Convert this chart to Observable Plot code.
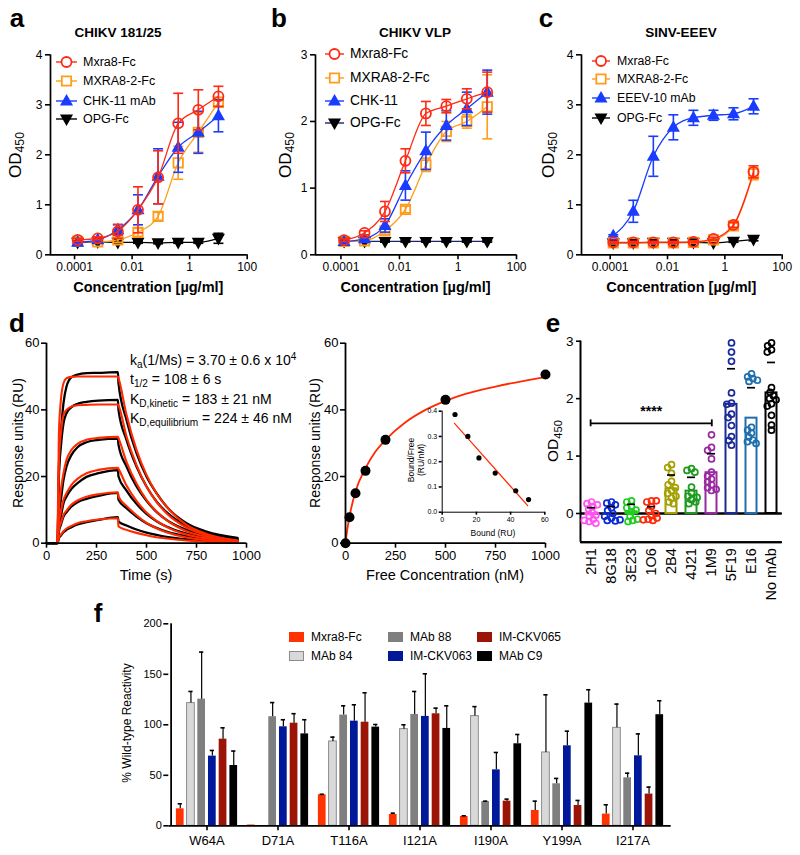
<!DOCTYPE html>
<html><head><meta charset="utf-8">
<script src="https://cdn.jsdelivr.net/npm/d3@7"></script>
<script src="https://cdn.jsdelivr.net/npm/@observablehq/plot@0.6"></script>
<style>
body{margin:0;background:#fff;}
#root{position:relative;width:800px;height:855px;overflow:hidden;font-family:"Liberation Sans",Arial,Helvetica,sans-serif;color:#000;background:#fff;}
.pl{position:absolute;}
.t{position:absolute;white-space:nowrap;line-height:1;}
.t sub{font-size:0.72em;vertical-align:-0.3em;line-height:0;}
.t sup{font-size:0.72em;vertical-align:0.45em;line-height:0;}
#root svg text{font-family:"Liberation Sans",Arial,sans-serif;}
#root g[aria-label$="-axis tick"]{stroke-width:1.6px;}
#pe g[aria-label="y-axis tick label"]{font-size:13.5px;}
#pe g[aria-label="fx-axis tick label"]{font-size:14.5px;}
#pf g[aria-label="y-axis tick label"]{font-size:11px;}
#pf g[aria-label="x-axis tick label"]{font-size:13px;}
</style></head><body><div id="root"></div><script>
// ---------------- DATA ----------------
const conc = [0.000128, 0.00064, 0.0032, 0.016, 0.08, 0.4, 2, 10];
const concTicks = [0.0001, 0.01, 1, 100];

// panel a: CHIKV 181/25
const aMxra8 = [0.30, 0.33, 0.47, 0.90, 1.55, 2.63, 2.90, 3.17];
const aMxra8Err = [0.03, 0.03, 0.14, 0.46, 0.53, 0.60, 0.40, 0.20];
const aMxra82 = [0.27, 0.26, 0.30, 0.45, 0.77, 1.84, 2.45, 3.05];
const aMxra82Err = [0.03, 0.03, 0.05, 0.08, 0.08, 0.33, 0.40, 0.10];
const aChk11 = [0.25, 0.30, 0.50, 0.90, 1.57, 2.15, 2.45, 2.78];
const aChk11Err = [0.03, 0.03, 0.10, 0.30, 0.55, 0.50, 0.42, 0.32];
const aOpg = [0.25, 0.26, 0.25, 0.25, 0.24, 0.25, 0.25, 0.33];
const aOpgErr = [0.02, 0.02, 0.02, 0.02, 0.02, 0.02, 0.02, 0.10];

// panel b: CHIKV VLP
const bMxra8 = [0.22, 0.33, 0.65, 1.41, 2.12, 2.23, 2.34, 2.44];
const bMxra8Err = [0.02, 0.03, 0.15, 0.18, 0.18, 0.10, 0.15, 0.30];
const bMxra82 = [0.20, 0.21, 0.36, 0.68, 1.35, 1.85, 2.00, 2.22];
const bMxra82Err = [0.02, 0.02, 0.05, 0.05, 0.10, 0.15, 0.10, 0.48];
const bChk11 = [0.20, 0.24, 0.44, 1.04, 1.56, 1.94, 2.19, 2.44];
const bChk11Err = [0.02, 0.02, 0.10, 0.22, 0.28, 0.22, 0.25, 0.33];
const bOpg = [0.20, 0.20, 0.20, 0.20, 0.20, 0.20, 0.20, 0.20];
const bOpgErr = [0.01, 0.01, 0.01, 0.01, 0.01, 0.01, 0.01, 0.01];

// panel c: SINV-EEEV
const cMxra8 = [0.25, 0.25, 0.25, 0.25, 0.26, 0.32, 0.60, 1.66];
const cMxra8Err = [0.02, 0.02, 0.02, 0.02, 0.02, 0.03, 0.05, 0.12];
const cMxra82 = [0.24, 0.24, 0.24, 0.24, 0.25, 0.30, 0.58, 1.62];
const cMxra82Err = [0.02, 0.02, 0.02, 0.02, 0.02, 0.03, 0.05, 0.12];
const cEeev = [0.38, 0.87, 1.97, 2.55, 2.74, 2.79, 2.82, 2.97];
const cEeevErr = [0.02, 0.22, 0.40, 0.25, 0.15, 0.10, 0.12, 0.15];
const cOpg = [0.24, 0.24, 0.25, 0.25, 0.25, 0.24, 0.27, 0.31];
const cOpgErr = [0.02, 0.02, 0.02, 0.02, 0.02, 0.02, 0.02, 0.03];

// panel d (sensorgram)
const dTime = [0, 55, 62, 72, 85, 100, 125, 155, 200, 260, 357, 360, 400, 450, 500, 550, 600, 700, 800, 955];
const dData1 = [0, 0, 22, 33, 42, 47, 49.8, 50.6, 51, 51.1, 51.3, 48, 37, 27, 20, 15, 11, 6, 3.5, 1.6];
const dData2 = [0, 0, 20, 29, 36, 39, 40.8, 41.8, 42.4, 42.8, 43, 40, 31, 23, 17, 12.5, 9.3, 5.2, 3, 1.4];
const dData3 = [0, 0, 8, 13, 19, 23, 26.5, 28.8, 30.3, 31, 31.4, 29.5, 23, 17, 12.7, 9.4, 7, 4, 2.3, 1.2];
const dData4 = [0, 0, 5, 8, 12, 14, 16.3, 18, 19.9, 21, 21.9, 20, 15.8, 11.8, 8.8, 6.6, 5, 2.9, 1.8, 1.0];
const dData5 = [0, 0, 3.5, 5.5, 8, 9.3, 11, 12.3, 13.3, 14.2, 15.1, 13, 10.5, 8, 6, 4.6, 3.5, 2.1, 1.3, 0.8];
const dData6 = [0, 0, 1.5, 2.3, 3.3, 4, 4.8, 5.6, 6.3, 7, 7.8, 6.5, 5.3, 4.1, 3.2, 2.5, 1.9, 1.2, 0.8, 0.5];
const dFit1 = [null, 0, 33, 43, 48, 49.5, 49.9, 50, 50, 50, 50, 49.5, 38.5, 28, 20.5, 15, 11, 5.5, 2.8, 0.8];
const dFit2 = [null, 0, 24, 33, 38.5, 40, 41, 41.4, 41.5, 41.6, 41.6, 41.3, 32, 23.4, 17, 12.4, 9, 4.7, 2.4, 0.7];
const dFit3 = [null, 0, 10, 16, 21, 25, 28, 29.8, 31, 31.6, 31.9, 31.5, 24.4, 17.9, 13, 9.5, 6.9, 3.6, 1.9, 0.5];
const dFit4 = [null, 0, 6, 9.5, 13, 15, 17.5, 19.3, 21, 22, 22.6, 22.3, 17.3, 12.7, 9.2, 6.7, 4.9, 2.6, 1.4, 0.4];
const dFit5 = [null, 0, 4, 6, 8.5, 9.8, 11.6, 12.8, 13.9, 14.7, 15.3, 14, 11.2, 8.4, 6.1, 4.5, 3.3, 1.7, 0.9, 0.3];
const dFit6 = [null, 0, 1.7, 2.6, 3.6, 4.4, 5.2, 6, 6.6, 7.1, 7.5, 5, 4, 3.1, 2.4, 1.8, 1.4, 0.8, 0.4, 0.2];

// panel d (equilibrium)
const eqConc = [0, 20, 50, 100, 200, 500, 1000];
const eqRU = [0, 7.8, 15, 21.7, 31, 43, 50.6];
const eqFitConc = [0, 10, 25, 50, 100, 150, 200, 300, 400, 500, 600, 750, 900, 1000];
const eqFitRU = [0, 4.5, 9.5, 15.5, 22.5, 27.5, 31, 36.3, 40, 42.7, 44.8, 47, 48.8, 49.8];
const scBound = [7.5, 15, 21.5, 31, 43, 50.5];
const scBF = [0.387, 0.30, 0.215, 0.155, 0.085, 0.05];
const scFitBound = [7.2, 50];
const scFitBF = [0.352, 0.026];

// panel e
const eCats = ["2H1", "8G18", "3E23", "1O6", "2B4", "4J21", "1M9", "5F19", "E16", "No mAb"];
const eColors = ["#ff55ee", "#0a2ad8", "#22cc22", "#ff2a0a", "#a3a000", "#1e9a1e", "#9a2aa0", "#1a2a99", "#1f6fae", "#000000"];
const eMean = [-0.02, 0.0, 0.03, 0.0, 0.43, 0.39, 0.71, 1.90, 1.66, 2.10];
const eSD = [0.12, 0.12, 0.13, 0.12, 0.24, 0.24, 0.33, 0.62, 0.53, 0.53];
const p2H1 = [0.2, 0.17, 0.12, 0.08, 0.02, -0.05, -0.1, -0.14, -0.17, -0.12, 0.15, -0.03];
const p8G18 = [0.2, 0.18, 0.1, 0.05, -0.08, -0.12, -0.13, -0.11, 0.0, 0.15, -0.05];
const p3E23 = [0.22, 0.2, 0.12, 0.1, 0.03, -0.05, -0.12, -0.14, 0.06, -0.1];
const p1O6 = [0.22, 0.2, 0.12, 0.05, -0.04, -0.1, -0.12, -0.08, -0.11, 0.0, 0.22];
const p2B4 = [0.85, 0.8, 0.7, 0.56, 0.5, 0.4, 0.35, 0.27, 0.2, 0.17, 0.3, 0.45];
const p4J21 = [0.78, 0.75, 0.72, 0.46, 0.36, 0.3, 0.24, 0.17, 0.2, 0.28];
const p1M9 = [1.37, 1.15, 1.1, 0.95, 0.72, 0.6, 0.5, 0.45, 0.4, 0.55, 0.65, 0.42];
const p5F19 = [2.97, 2.81, 2.65, 2.1, 1.92, 1.9, 1.73, 1.67, 1.53, 1.34, 1.27, 1.19];
const pE16 = [2.43, 2.38, 2.35, 2.32, 2.3, 1.5, 1.45, 1.4, 1.33, 1.28, 1.25, 1.22];
const pNoMab = [2.97, 2.92, 2.85, 2.81, 2.19, 2.11, 2.05, 2.0, 1.98, 1.91, 1.87, 1.71, 1.54, 1.45];
const eSigFrom = "2H1", eSigTo = "1M9", eSigY = 1.57, eSigLabel = "****";

// panel f
const fMut = ["W64A", "D71A", "T116A", "I121A", "I190A", "Y199A", "I217A"];
const fSeries = ["Mxra8-Fc", "MAb 84", "MAb 88", "IM-CKV063", "IM-CKV065", "MAb C9"];
const fColors = ["#ff3300", "#d9d9d9", "#7f7f7f", "#00189a", "#9b1405", "#000000"];
const fMxra8 = [16.8, 0.8, 30.7, 11.2, 9.2, 15.2, 11.6];
const fMxra8SD = [5, 0, 0.5, 1.3, 0.7, 9.2, 9.2];
const fMAb84 = [121.5, 0, 83.5, 95.7, 108.6, 72.6, 97];
const fMAb84SD = [11.5, 0, 4.3, 4.3, 9.4, 57.1, 23.5];
const fMAb88 = [125.4, 108, 109.6, 110.2, 24, 41.6, 47.5];
const fMAb88SD = [46.6, 14, 9.2, 22.8, 0.4, 5.3, 4.6];
const f063 = [69, 98, 103.6, 108.3, 55.4, 79.2, 69.3];
const f063SD = [5.6, 7, 16.2, 42.2, 17.2, 14.5, 21.7];
const f065 = [85.8, 101.6, 102.6, 110.9, 24.4, 20.1, 31.4];
const f065SD = [11.2, 9.4, 29.1, 5.6, 2, 5, 6.9];
const fC9 = [59.7, 91, 97.7, 96.4, 81.2, 121.5, 110];
const fC9SD = [14.3, 14, 2.6, 22.4, 9.2, 13.2, 13.8];

// ---------------- HELPERS ----------------
const FONT = '"Liberation Sans", Arial, sans-serif';
const intFmt = d3.format("d");
const root = document.getElementById("root");
function place(node, left, top, w, id) {
  const d = document.createElement("div");
  d.className = "pl"; d.style.left = left + "px"; d.style.top = top + "px";
  if (w) d.style.width = w + "px";
  if (id) d.id = id;
  d.appendChild(node); root.appendChild(d); return d;
}
function txt(html, x, y, o = {}) {
  const d = document.createElement("div");
  d.className = "t"; d.innerHTML = html;
  d.style.fontSize = (o.size || 12) + "px";
  d.style.fontWeight = o.bold ? "bold" : "normal";
  d.style.left = x + "px"; d.style.top = y + "px";
  const ax = o.anchor === "start" ? "0" : o.anchor === "end" ? "-100%" : "-50%";
  d.style.transform = `translate(${ax},-50%)` + (o.rotate ? ` rotate(${o.rotate}deg)` : "");
  root.appendChild(d);
}
const capSym = {draw(ctx, size) { const r = Math.sqrt(size / Math.PI); ctx.moveTo(-r, 0); ctx.lineTo(r, 0); }};
const triUp = {draw(ctx, size) { const r = Math.sqrt(size / Math.PI); ctx.moveTo(0, -r * 1.05); ctx.lineTo(r, r * 0.72); ctx.lineTo(-r, r * 0.72); ctx.closePath(); }};
const triDown = {draw(ctx, size) { const r = Math.sqrt(size / Math.PI); ctx.moveTo(0, r * 1.05); ctx.lineTo(r, -r * 0.72); ctx.lineTo(-r, -r * 0.72); ctx.closePath(); }};
const d3sym = s => s === "circle" ? d3.symbolCircle : s === "square" ? d3.symbolSquare : s;

const RED = "#ff2a14", ORANGE = "#ff9c1a", BLUE = "#1a3cff", BLACK = "#000";

function dosePanel(cfg) {
  const marks = [
    Plot.ruleY([0], {stroke: "#000", strokeWidth: 1.7}),
    Plot.ruleX([cfg.xMin], {stroke: "#000", strokeWidth: 1.7})
  ];
  for (const s of cfg.series) {
    const d = conc.map((c, i) => ({c, v: s.y[i], lo: s.y[i] - s.err[i], hi: s.y[i] + s.err[i]}));
    marks.push(Plot.line(d, {x: "c", y: "v", stroke: s.lineColor || s.color, strokeWidth: 1.3, curve: "monotone-x"}));
    marks.push(Plot.ruleX(d, {x: "c", y1: "lo", y2: "hi", stroke: s.color, strokeWidth: 1.6}));
    marks.push(Plot.dot(d, {x: "c", y: "hi", symbol: capSym, r: 5, stroke: s.color, fill: "none", strokeWidth: 1.6}));
    marks.push(Plot.dot(d, {x: "c", y: "lo", symbol: capSym, r: 5, stroke: s.color, fill: "none", strokeWidth: 1.6}));
    marks.push(Plot.dot(d, {x: "c", y: "v", symbol: s.symbol, r: s.r, stroke: s.color, fill: s.fill, strokeWidth: 1.8}));
  }
  const p = Plot.plot({
    width: cfg.width, height: 300,
    marginLeft: cfg.ml, marginRight: cfg.mr, marginTop: 54.3, marginBottom: 45.7,
    style: {fontSize: "12px", fontFamily: FONT, background: "transparent", color: "#000", overflow: "visible"},
    x: {type: "log", domain: [cfg.xMin, 100], ticks: concTicks, tickFormat: d => String(d), tickSize: 5, tickPadding: 3, label: null},
    y: {domain: [0, cfg.yMax], ticks: d3.range(0, cfg.yMax + 1), tickFormat: intFmt, tickSize: 5, tickPadding: 3, label: null},
    marks
  });
  place(p, cfg.left, 0, cfg.width);
  // legend
  cfg.series.slice().sort((a, b) => a.order - b.order).forEach((s, i) => {
    const w = cfg.legSym[1] - cfg.legSym[0], h = 14, yc = cfg.legY[i];
    const svg = d3.create("svg").attr("width", w).attr("height", h)
      .style("position", "absolute").style("left", cfg.legSym[0] + "px").style("top", (yc - h / 2) + "px").style("overflow", "visible");
    svg.append("line").attr("x1", 0).attr("x2", w).attr("y1", h / 2).attr("y2", h / 2).attr("stroke", s.lineColor || s.color).attr("stroke-width", 1.4);
    svg.append("path").attr("transform", `translate(${w / 2},${h / 2})`)
      .attr("d", d3.symbol(d3sym(s.symbol), Math.PI * s.r * s.r)())
      .attr("fill", s.fill === "none" ? "#fff" : s.fill).attr("stroke", s.color).attr("stroke-width", 1.8);
    root.appendChild(svg.node());
    txt(s.name, cfg.legText, yc, {size: cfg.legSize, anchor: "start"});
  });
  txt(cfg.title, cfg.titleX, 33, {size: 13.5, bold: true});
  txt("Concentration [µg/ml]", cfg.left + cfg.ml + (cfg.width - cfg.ml - cfg.mr) / 2, 287, {size: 14.5, bold: true});
  txt("OD<sub>450</sub>", cfg.odX, 155, {size: 17, rotate: -90});
  txt(cfg.letter, cfg.letterX, 18, {size: 26, bold: true});
}

const ser = (name, y, err, color, symbol, fill, r, order, lineColor) => ({name, y, err, color, symbol, fill, r, order, lineColor});

// ---------------- PANEL a ----------------
dosePanel({
  left: 0, width: 265, ml: 50, mr: 18.3, xMin: 1.46e-5, yMax: 4,
  title: "CHIKV 181/25", titleX: 118, odX: 15, letter: "a", letterX: 17,
  legSym: [56, 77], legText: 83, legY: [61.7, 81, 100.7, 118.7], legSize: 12.5,
  series: [
    ser("OPG-Fc", aOpg, aOpgErr, BLACK, triDown, BLACK, 5, 3),
    ser("MXRA8-2-Fc", aMxra82, aMxra82Err, ORANGE, "square", "none", 5.3, 1),
    ser("CHK-11 mAb", aChk11, aChk11Err, BLUE, triUp, BLUE, 5, 2),
    ser("Mxra8-Fc", aMxra8, aMxra8Err, RED, "circle", "none", 5, 0)
  ]
});
// ---------------- PANEL b ----------------
dosePanel({
  left: 265, width: 270, ml: 50, mr: 19, xMin: 1.35e-5, yMax: 3,
  title: "CHIKV VLP", titleX: 415, odX: 285, letter: "b", letterX: 279,
  legSym: [325, 344], legText: 350, legY: [54.3, 78.3, 100.7, 123.3], legSize: 13.8,
  series: [
    ser("OPG-Fc", bOpg, bOpgErr, BLACK, triDown, BLACK, 5, 3, "#1c2470"),
    ser("MXRA8-2-Fc", bMxra82, bMxra82Err, ORANGE, "square", "none", 5.3, 1),
    ser("CHK-11", bChk11, bChk11Err, BLUE, triUp, BLUE, 5, 2),
    ser("Mxra8-Fc", bMxra8, bMxra8Err, RED, "circle", "none", 5, 0)
  ]
});
// ---------------- PANEL c ----------------
dosePanel({
  left: 530, width: 270, ml: 51, mr: 18.3, xMin: 1.0e-5, yMax: 4,
  title: "SINV-EEEV", titleX: 681, odX: 548, letter: "c", letterX: 546,
  legSym: [592, 610], legText: 617, legY: [61, 79.3, 98.3, 118.3], legSize: 12.3,
  series: [
    ser("OPG-Fc", cOpg, cOpgErr, BLACK, triDown, BLACK, 5, 3),
    ser("EEEV-10 mAb", cEeev, cEeevErr, BLUE, triUp, BLUE, 5, 2),
    ser("MXRA8-2-Fc", cMxra82, cMxra82Err, ORANGE, "square", "none", 5.3, 1),
    ser("Mxra8-Fc", cMxra8, cMxra8Err, RED, "circle", "none", 5, 0)
  ]
});

// ---------------- PANEL d (left) ----------------
{
  const dataSets = [dData1, dData2, dData3, dData4, dData5, dData6];
  const fitSets = [dFit1, dFit2, dFit3, dFit4, dFit5, dFit6];
  const dataRows = [], fitRows = [];
  dataSets.forEach((arr, k) => arr.forEach((v, i) => dataRows.push({t: dTime[i], v, k})));
  fitSets.forEach((arr, k) => arr.forEach((v, i) => fitRows.push({t: dTime[i], v, k})));
  const p = Plot.plot({
    width: 270, height: 260, marginLeft: 46, marginRight: 24, marginTop: 22.7, marginBottom: 37.3,
    style: {fontSize: "13px", fontFamily: FONT, background: "transparent", color: "#000", overflow: "visible"},
    x: {domain: [0, 1000], ticks: [0, 250, 500, 750, 1000], tickFormat: intFmt, tickSize: 5, tickPadding: 3, label: null},
    y: {domain: [0, 60], ticks: [0, 20, 40, 60], tickFormat: intFmt, tickSize: 5, tickPadding: 2, label: null},
    marks: [
      Plot.line(dataRows, {x: "t", y: "v", z: "k", stroke: "#000", strokeWidth: 2.3, curve: "monotone-x"}),
      Plot.line(fitRows, {x: "t", y: "v", z: "k", stroke: "#ff2a00", strokeWidth: 2.1, curve: "monotone-x"}),
      Plot.ruleX([0], {stroke: "#000", strokeWidth: 1.8}),
      Plot.ruleY([0], {stroke: "#000", strokeWidth: 1.8})
    ]
  });
  place(p, 0, 320, 270);
  txt("d", 17, 323, {size: 26, bold: true});
  txt("Time (s)", 146, 575, {size: 14.5});
  txt("Response units (RU)", 18, 443, {size: 14, rotate: -90});
  txt("k<sub>a</sub>(1/Ms) = 3.70 ± 0.6 x 10<sup>4</sup>", 130, 360, {size: 14, anchor: "start"});
  txt("t<sub>1/2</sub> = 108 ± 6 s", 130, 379, {size: 14, anchor: "start"});
  txt("K<sub>D,kinetic</sub> = 183 ± 21 nM", 130, 398.5, {size: 14, anchor: "start"});
  txt("K<sub>D,equilibrium</sub> = 224 ± 46 nM", 130, 418, {size: 14, anchor: "start"});
}

// ---------------- PANEL d (right) ----------------
{
  const pts = eqConc.map((c, i) => ({c, v: eqRU[i]}));
  const fit = eqFitConc.map((c, i) => ({c, v: eqFitRU[i]}));
  const p = Plot.plot({
    width: 270, height: 260, marginLeft: 45, marginRight: 25, marginTop: 22.7, marginBottom: 37.3,
    style: {fontSize: "13px", fontFamily: FONT, background: "transparent", color: "#000", overflow: "visible"},
    x: {domain: [0, 1000], ticks: [0, 250, 500, 750, 1000], tickFormat: intFmt, tickSize: 5, tickPadding: 3, label: null},
    y: {domain: [0, 60], ticks: [0, 20, 40, 60], tickFormat: intFmt, tickSize: 5, tickPadding: 2, label: null},
    marks: [
      Plot.line(fit, {x: "c", y: "v", stroke: "#ff2a00", strokeWidth: 1.8, curve: "monotone-x"}),
      Plot.dot(pts, {x: "c", y: "v", r: 5, fill: "#000"}),
      Plot.ruleX([0], {stroke: "#000", strokeWidth: 1.8}),
      Plot.ruleY([0], {stroke: "#000", strokeWidth: 1.8})
    ]
  });
  place(p, 300, 320, 270);
  txt("Free Concentration (nM)", 445, 575, {size: 14.5});
  txt("Response units (RU)", 315, 443, {size: 14, rotate: -90});

  // inset Scatchard
  const sc = scBound.map((b, i) => ({b, y: scBF[i]}));
  const scFit = scFitBound.map((b, i) => ({b, y: scFitBF[i]}));
  const q = Plot.plot({
    width: 150, height: 145, marginLeft: 41.7, marginRight: 5.7, marginTop: 15.7, marginBottom: 28.3,
    style: {fontSize: "7px", fontFamily: FONT, background: "transparent", color: "#000", overflow: "visible"},
    x: {domain: [0, 60], ticks: [0, 20, 40, 60], tickFormat: intFmt, tickSize: 3, tickPadding: 2, label: null},
    y: {domain: [0, 0.4], ticks: [0, 0.1, 0.2, 0.3, 0.4], tickFormat: d3.format(".1f"), tickSize: 3, tickPadding: 2, label: null},
    marks: [
      Plot.line(scFit, {x: "b", y: "y", stroke: "#ff2a00", strokeWidth: 1.2}),
      Plot.dot(sc, {x: "b", y: "y", r: 2.6, fill: "#000"}),
      Plot.ruleX([0], {stroke: "#000", strokeWidth: 1}),
      Plot.ruleY([0], {stroke: "#000", strokeWidth: 1})
    ]
  });
  place(q, 400, 395, 150);
  txt("Bound (RU)", 493, 533, {size: 8.5});
  txt("Bound/Free", 410.7, 460, {size: 8.5, rotate: -90});
  txt("(RU/nM)", 420.7, 460, {size: 8.5, rotate: -90});
}

// ---------------- PANEL e ----------------
{
  const eVals = [p2H1, p8G18, p3E23, p1O6, p2B4, p4J21, p1M9, p5F19, pE16, pNoMab];
  const bars = eCats.map((cat, i) => ({cat, mean: eMean[i], top: eMean[i] + eSD[i], bot: eMean[i] - eSD[i], color: eColors[i]}));
  const pts = [];
  eCats.forEach((cat, i) => eVals[i].forEach(v => pts.push({cat, v, color: eColors[i]})));
  const common = {width: 260, height: 290, marginLeft: 40, marginRight: 18, marginTop: 20.7, marginBottom: 68.3};
  const ov = Plot.plot({
    ...common,
    style: {fontSize: "14px", fontFamily: FONT, background: "transparent", color: "#000", overflow: "visible"},
    x: {domain: [0, eCats.length], axis: null},
    y: {domain: [-0.5, 3], axis: null},
    marks: [
      Plot.ruleY([0], {stroke: "#000", strokeWidth: 2}),
      Plot.ruleY([-0.5], {stroke: "#000", strokeWidth: 2}),
      Plot.ruleX([0], {y1: -0.5, y2: 3, stroke: "#000", strokeWidth: 2}),
      Plot.link([{x1: eCats.indexOf(eSigFrom) + 0.5, x2: eCats.indexOf(eSigTo) + 0.5, y: eSigY}], {x1: "x1", x2: "x2", y1: "y", y2: "y", stroke: "#000", strokeWidth: 1.8}),
      Plot.ruleX([eCats.indexOf(eSigFrom) + 0.5, eCats.indexOf(eSigTo) + 0.5], {y1: eSigY - 0.06, y2: eSigY + 0.06, stroke: "#000", strokeWidth: 1.8}),
      Plot.text([{x: (eCats.indexOf(eSigFrom) + eCats.indexOf(eSigTo) + 1) / 2, y: eSigY + 0.2}], {x: "x", y: "y", text: () => eSigLabel, fontSize: 14, fontWeight: "bold"})
    ]
  });
  place(ov, 540, 320, 260);
  const p = Plot.plot({
    ...common,
    style: {fontSize: "14.5px", fontFamily: FONT, background: "transparent", color: "#000", overflow: "visible"},
    color: {type: "identity"},
    fx: {domain: eCats, padding: 0, axis: "bottom", tickRotate: -90, tickSize: 0, tickPadding: 6, label: null},
    y: {domain: [-0.5, 3], ticks: [0, 1, 2, 3], tickFormat: intFmt, tickSize: 5, tickPadding: 3, label: null},
    marks: [
      Plot.ruleY([0], {stroke: "#000", strokeWidth: 2}),
      Plot.ruleY([-0.5], {stroke: "#000", strokeWidth: 2}),
      Plot.barY(bars, {fx: "cat", y1: 0, y2: "mean", stroke: "color", fill: "none", strokeWidth: 2, insetLeft: 4.5, insetRight: 4.5}),
      Plot.dot(pts, Plot.dodgeX({anchor: "middle", padding: -1.2}, {fx: "cat", y: "v", r: 3, stroke: "color", fill: "none", strokeWidth: 1.7})),
      Plot.ruleX(bars, {fx: "cat", y1: "bot", y2: "top", stroke: "#000", strokeWidth: 1.7}),
      Plot.tickY(bars, {fx: "cat", y: "top", stroke: "#000", strokeWidth: 1.7, insetLeft: 6, insetRight: 6})
    ]
  });
  place(p, 540, 320, 260, "pe");
  txt("e", 553, 323, {size: 26, bold: true});
  txt("OD<sub>450</sub>", 553, 441, {size: 15.5, rotate: -90});
}

// ---------------- PANEL f ----------------
{
  const vals = [fMxra8, fMAb84, fMAb88, f063, f065, fC9];
  const sds = [fMxra8SD, fMAb84SD, fMAb88SD, f063SD, f065SD, fC9SD];
  const W = 600, ML = 68.3, MR = 29.3;
  const bw = (W - ML - MR) / fMut.length;
  const step = 10.7, barW = 8.5, capW = 5;
  const marks = [];
  fSeries.forEach((s, si) => {
    const d = fMut.map((m, mi) => ({m, v: vals[si][mi], e: vals[si][mi] + sds[si][mi], sd: sds[si][mi]}));
    const off = (si - (fSeries.length - 1) / 2) * step;
    marks.push(Plot.barY(d, {x: "m", y: "v", fill: fColors[si], stroke: si === 1 ? "#8c8c8c" : "none", strokeWidth: 1, dx: off, insetLeft: (bw - barW) / 2, insetRight: (bw - barW) / 2}));
    const de = d.filter(r => r.sd > 0);
    marks.push(Plot.ruleX(de, {x: "m", y1: "v", y2: "e", dx: off, stroke: "#000", strokeWidth: 1.2}));
    marks.push(Plot.tickY(de, {x: "m", y: "e", dx: off, stroke: "#000", strokeWidth: 1.6, insetLeft: (bw - capW) / 2, insetRight: (bw - capW) / 2}));
  });
  marks.push(Plot.ruleY([0], {stroke: "#000", strokeWidth: 1.8}));
  marks.push(Plot.ruleX([fMut[0]], {dx: -bw / 2, y1: 0, y2: 200, stroke: "#000", strokeWidth: 1.8}));
  const p = Plot.plot({
    width: W, height: 245, marginLeft: ML, marginRight: MR, marginTop: 13.3, marginBottom: 29.7,
    style: {fontSize: "13px", fontFamily: FONT, background: "transparent", color: "#000", overflow: "visible"},
    x: {domain: fMut, padding: 0, tickSize: 5, tickPadding: 5, label: null},
    y: {domain: [0, 200], ticks: [0, 50, 100, 150, 200], tickFormat: intFmt, tickSize: 5, tickPadding: 2, label: null},
    marks
  });
  place(p, 100, 610, W, "pf");
  txt("f", 98, 613, {size: 26, bold: true});
  txt("% Wild-type Reactivity", 127, 723, {size: 12, rotate: -90});
  // legend (column-major)
  const colX = [289, 388, 477], rowY = [637, 656];
  fSeries.forEach((s, i) => {
    const col = Math.floor(i / 2), row = i % 2;
    const sw = document.createElement("div");
    sw.style.cssText = `position:absolute;left:${colX[col]}px;top:${rowY[row] - 5}px;width:15px;height:10px;background:${fColors[i]};box-sizing:border-box;` + (i === 1 ? "border:1px solid #8c8c8c;" : "");
    root.appendChild(sw);
    txt(s, colX[col] + 22, rowY[row], {size: 12, anchor: "start"});
  });
}
</script></body></html>
